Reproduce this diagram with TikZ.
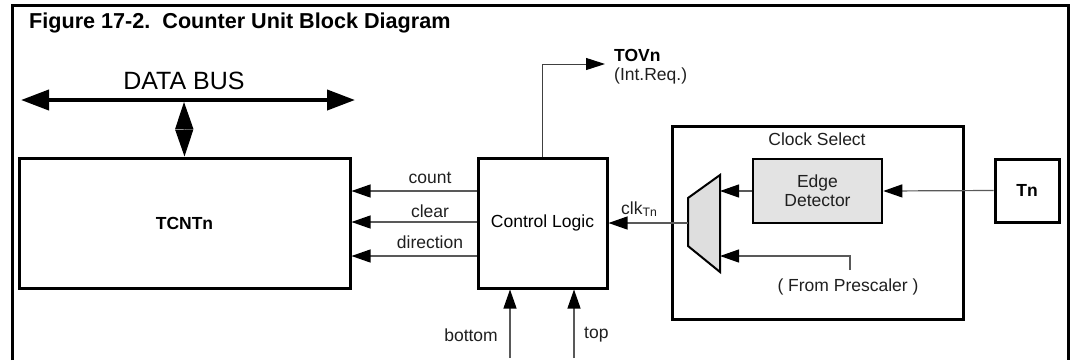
\documentclass[tikz,border=0pt]{standalone}
\usepackage{fontspec}
\setmainfont{Liberation Sans}
\usetikzlibrary{arrows.meta}
\tikzset{
  lbl/.style={font=\fontsize{17.5}{20}\selectfont, text=black!88, inner sep=0pt},
  blbl/.style={font=\fontsize{17.5}{20}\selectfont\bfseries, inner sep=0pt},
  blk/.style={draw, line width=3pt, inner sep=0pt, font=\fontsize{17.5}{20}\selectfont, align=center},
  sig/.style={draw=black!65, line width=1.2pt, -{Triangle[length=19pt,width=13pt,color=black]}},
}
\begin{document}
\begin{tikzpicture}[x=1pt,y=-1pt]
\useasboundingbox (0,0) rectangle (1073,360);
% outer frame
\draw[line width=3pt] (12,360) -- (12,5) -- (1068,5) -- (1068,360);
% title
\node[anchor=west, inner sep=0pt, font=\fontsize{21.6}{25}\selectfont\bfseries] (title) at (29,23) {Figure 17-2.\ \ Counter Unit Block Diagram};
% data bus
\coordinate (busL) at (21,100);
\coordinate (busR) at (355,100);
\coordinate (busM) at (184,100);
\draw[line width=4pt, {Triangle[length=28pt,width=20pt]}-{Triangle[length=28pt,width=20pt]}] (busL) -- (busR);
\node[inner sep=0pt, font=\fontsize{25}{28}\selectfont] (dbus) at (184,81) {DATA BUS};
% blocks
\node[blk, minimum width=331pt, minimum height=130pt, font=\fontsize{17.5}{20}\selectfont\bfseries] (tcnt) at (184.5,223) {TCNTn};
\node[blk, minimum width=129pt, minimum height=130pt] (ctl) at (542.5,223) {Control Logic};
\node[blk, minimum width=291pt, minimum height=193pt] (csel) at (817.5,222.5) {};
\node[lbl] (cseltxt) at (817,139) {Clock Select};
\node[blk, line width=2.6pt, fill=black!11, minimum width=129pt, minimum height=64pt, text=black!88] (ed) at (817.5,191) {Edge\\[-1pt]Detector};
\node[blk, minimum width=64pt, minimum height=63pt, font=\fontsize{17.5}{20}\selectfont\bfseries] (tn) at (1027,190.5) {Tn};
% mux
\coordinate (mA) at (688,198);
\coordinate (mB) at (720,175);
\coordinate (mC) at (720,272);
\coordinate (mD) at (688,246);
\draw[line width=2pt, fill=black!13] (mA) -- (mB) -- (mC) -- (mD) -- cycle;
\coordinate (muxOut) at (688,223);
\coordinate (muxIn1) at (720,191);
\coordinate (muxIn2) at (720,256);
% vertical bus connection
\draw[draw=black!55, line width=1.2pt, {Triangle[length=27pt,width=18pt,color=black]}-{Triangle[length=27pt,width=18pt,color=black]}] ([yshift=-2pt]busM) -- (tcnt.north);
% control -> tcnt
\coordinate (yc) at (0,191);
\coordinate (yl) at (0,222);
\coordinate (yd) at (0,256);
\draw[sig] (ctl.west |- yc) -- (tcnt.east |- yc);
\draw[sig] (ctl.west |- yl) -- (tcnt.east |- yl);
\draw[sig] (ctl.west |- yd) -- (tcnt.east |- yd);
\node[lbl] (lcount) at (430,178) {count};
\node[lbl] (lclear) at (430,211) {clear};
\node[lbl] (ldir) at (430,242) {direction};
% TOVn
\coordinate (tovc) at (542.5,64);
\coordinate (tovE) at (605,64);
\draw[draw=black!75, line width=1pt, -{Triangle[length=19pt,width=12pt,color=black]}] (ctl.north) -- (tovc) -- (tovE);
\node[blbl, anchor=west] (tov) at (614,55) {TOVn};
\node[lbl, anchor=west] (intreq) at (614,76) {(Int.Req.)};
% clock path
\draw[sig] (tn.west) -- (ed.east);
\draw[sig] (ed.west) -- (muxIn1);
\coordinate (presc) at (850,270);
\draw[sig] (presc) -- (850,256) -- (muxIn2);
\node[lbl] (lpresc) at (848,287) {( From Prescaler )};
\draw[sig] (muxOut) -- (ctl.east);
\node[lbl, anchor=west] (lclk) at (621,209) {clk\textsubscript{Tn}};
% bottom / top
\coordinate (bot) at (510,358);
\coordinate (topc) at (574,358);
\draw[sig] (bot) -- (ctl.south -| bot);
\draw[sig] (topc) -- (ctl.south -| topc);
\node[lbl, anchor=east] (lbot) at (498,335) {bottom};
\node[lbl, anchor=west] (ltop) at (584,335) {top};
\end{tikzpicture}
\end{document}
